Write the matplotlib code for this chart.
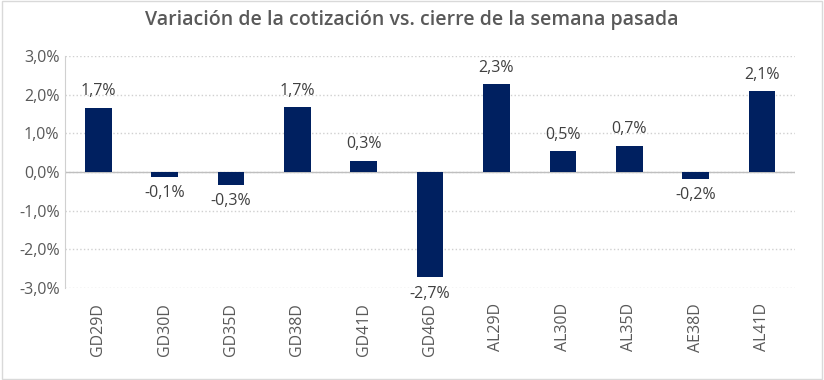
import matplotlib.pyplot as plt
from matplotlib.ticker import FuncFormatter, MultipleLocator
from matplotlib.patches import Rectangle

categories = ['GD29D', 'GD30D', 'GD35D', 'GD38D', 'GD41D', 'GD46D',
              'AL29D', 'AL30D', 'AL35D', 'AE38D', 'AL41D']
values = [1.66, -0.13, -0.33, 1.68, 0.29, -2.72, 2.27, 0.53, 0.68, -0.18, 2.09]

plt.rcParams['font.family'] = ['Open Sans', 'DejaVu Sans']
grey = '#595959'

fig = plt.figure(figsize=(8.24, 3.8), dpi=100)
ax = fig.add_axes([0.079, 0.242, 0.886, 0.611])
fig.patches.append(Rectangle((0.002, 0.003), 0.996, 0.994, transform=fig.transFigure,
                             fill=False, edgecolor='#d9d9d9', lw=1))

x = list(range(len(categories)))
ax.bar(x, values, width=0.4, color='#002060', zorder=3)
ax.set_xlim(-0.5, len(categories) - 0.5)
ax.set_ylim(-3.0, 3.0)
ax.yaxis.set_major_locator(MultipleLocator(1.0))
ax.yaxis.set_major_formatter(FuncFormatter(lambda v, p: ('%.1f%%' % v).replace('.', ',')))
ax.grid(axis='y', color='#d0d0d0', linestyle=':', linewidth=1, zorder=0)
ax.axhline(0, color='#bfbfbf', lw=1, zorder=2)

for s in ['top', 'right', 'bottom']:
    ax.spines[s].set_visible(False)
ax.spines['left'].set_color('#d0d0d0')
ax.tick_params(axis='both', length=0, colors=grey, labelsize=11.5)
ax.set_xticks(x)
ax.set_xticklabels(categories, rotation=90)
ax.tick_params(axis='x', pad=11)
ax.tick_params(axis='y', pad=4)

for xi, v in zip(x, values):
    lab = ('%.1f%%' % v).replace('.', ',')
    if v >= 0:
        ax.annotate(lab, (xi, v), xytext=(0, 6), textcoords='offset points',
                    ha='center', va='bottom', color='#404040', fontsize=11.5)
    else:
        ax.annotate(lab, (xi, v), xytext=(0, -6), textcoords='offset points',
                    ha='center', va='top', color='#404040', fontsize=11.5)

fig.suptitle('Variación de la cotización vs. cierre de la semana pasada',
             x=0.5, y=0.975, fontsize=14, color=grey, fontweight='semibold')

fig.savefig('out.png', dpi=100)
